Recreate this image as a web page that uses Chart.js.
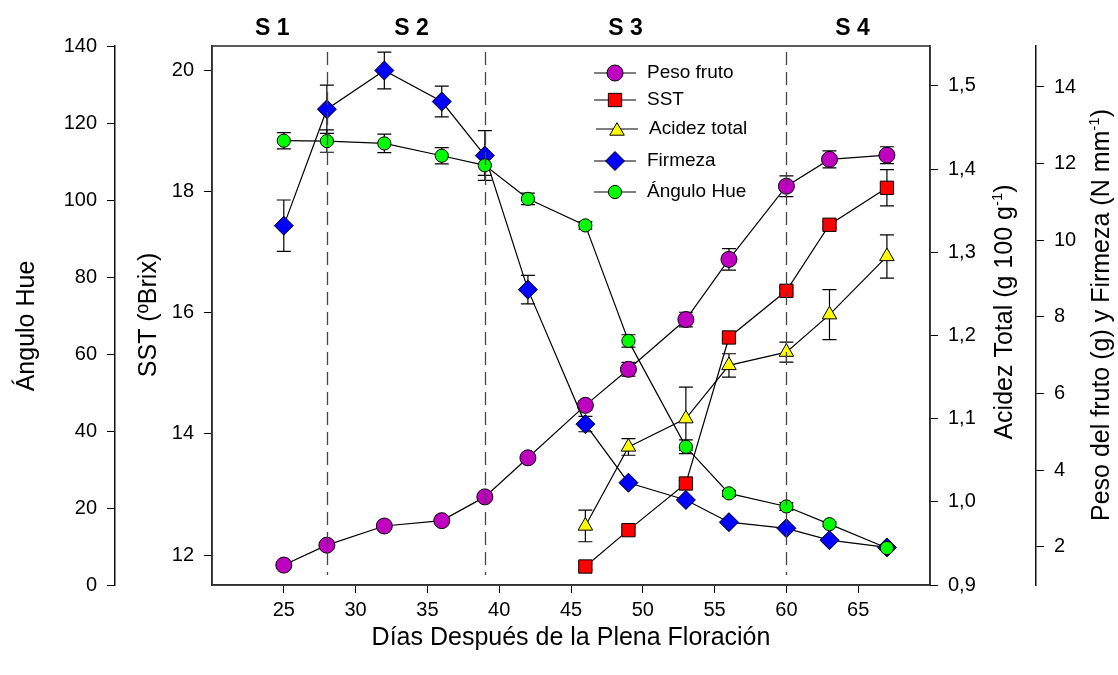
<!DOCTYPE html>
<html>
<head>
<meta charset="utf-8">
<script src="https://cdn.jsdelivr.net/npm/chart.js@4"></script>
<style>
  html, body { margin: 0; padding: 0; background: #fff; }
  #wrap { width: 1118px; height: 675px; }
</style>
</head>
<body>
<div id="wrap"><canvas id="chart" width="1118" height="675"></canvas></div>
<script>
// axis ticks
const xTicks = [25, 30, 35, 40, 45, 50, 55, 60, 65];
const hueTicks = [0, 20, 40, 60, 80, 100, 120, 140];
const sstTicks = [12, 14, 16, 18, 20];
const acidTicks = [0.9, 1.0, 1.1, 1.2, 1.3, 1.4, 1.5];
const pesoTicks = [2, 4, 6, 8, 10, 12, 14];

// sampling days (DDPF)
const days = [25, 28, 32, 36, 39, 42, 46, 49, 53, 56, 60, 63, 67];
const lateDays = [46, 49, 53, 56, 60, 63, 67];

// series values and error bars
const peso = [1.52, 2.04, 2.54, 2.68, 3.30, 4.32, 5.69, 6.63, 7.93, 9.50, 11.41, 12.11, 12.22];
const pesoErr = [0.05, 0.05, 0.05, 0.05, 0.08, 0.10, 0.12, 0.18, 0.19, 0.28, 0.27, 0.22, 0.22];
const sst = [11.81, 12.41, 13.18, 15.59, 16.36, 17.45, 18.06];
const sstErr = [0.05, 0.05, 0.05, 0.05, 0.05, 0.05, 0.30];
const acidez = [0.971, 1.066, 1.100, 1.164, 1.180, 1.225, 1.295];
const acidezErr = [0.019, 0.010, 0.038, 0.014, 0.012, 0.030, 0.026];
const firmeza = [10.38, 13.42, 14.43, 13.62, 12.21, 8.71, 5.20, 3.67, 3.22, 2.64, 2.48, 2.17, 1.98];
const firmezaErr = [0.67, 0.63, 0.48, 0.40, 0.65, 0.37, 0.20, 0.05, 0.05, 0.05, 0.05, 0.05, 0.05];
const hue = [115.4, 115.3, 114.7, 111.5, 109.0, 100.3, 93.4, 63.4, 35.9, 23.8, 20.4, 15.8, 9.6];
const hueErr = [2.1, 2.9, 2.4, 2.1, 2.6, 1.5, 1.0, 1.6, 1.8, 0.8, 1.0, 0.6, 0.5];

// phases
const phaseDays = [28, 39, 60];
const stageNames = ['S 1', 'S 2', 'S 3', 'S 4'];
const stageDays = [24.2, 33.9, 48.8, 64.6];

const FAMILY = '"Liberation Sans", Arial, Helvetica, sans-serif';
const fnt = (size, weight) => (weight ? weight + ' ' : '') + size + 'px ' + FAMILY;

function series(label, xs, ys, err, axis, style, color, radius, order) {
  return {
    label: label,
    data: xs.map((d, i) => ({ x: d, y: ys[i] })),
    err: err,
    yAxisID: axis,
    order: order,
    pointStyle: style,
    pointRadius: radius,
    pointHoverRadius: radius,
    pointBackgroundColor: color,
    backgroundColor: color,
    pointBorderColor: '#000',
    pointBorderWidth: 1,
    borderColor: '#000',
    borderWidth: 1.2,
    tension: 0,
    fill: false
  };
}

const datasets = [
  series('Peso fruto', days, peso, pesoErr, 'yPeso', 'circle', '#C000C0', 8, 4),
  series('SST', lateDays, sst, sstErr, 'ySst', 'rect', '#FF0000', 9.4, 3),
  series('Acidez total', lateDays, acidez, acidezErr, 'yAcid', 'triangle', '#FFFF00', 8.4, 2),
  series('Firmeza', days, firmeza, firmezaErr, 'yPeso', 'rectRot', '#0000FF', 9.5, 1),
  series('Ángulo Hue', days, hue, hueErr, 'yHue', 'circle', '#00FF00', 6.6, 0)
];

function drawParts(ctx, parts, x, y, rot, size) {
  ctx.save();
  ctx.translate(x, y);
  ctx.rotate(rot);
  ctx.textAlign = 'left';
  ctx.textBaseline = 'alphabetic';
  ctx.fillStyle = '#000';
  const widths = parts.map(p => {
    ctx.font = fnt(p.sup ? size * 0.6 : size);
    return ctx.measureText(p.t).width;
  });
  let cx = -widths.reduce((a, b) => a + b, 0) / 2;
  const base = size * 0.36;
  parts.forEach((p, i) => {
    ctx.font = fnt(p.sup ? size * 0.6 : size);
    ctx.fillText(p.t, cx, p.sup ? base - size * 0.42 : base);
    cx += widths[i];
  });
  ctx.restore();
}

const errorBars = {
  id: 'errorBars',
  beforeDatasetsDraw(chart) {
    const ctx = chart.ctx;
    const area = chart.chartArea;
    ctx.save();
    ctx.beginPath();
    ctx.rect(area.left, area.top, area.right - area.left, area.bottom - area.top);
    ctx.clip();
    ctx.strokeStyle = '#000';
    ctx.lineWidth = 1.2;
    chart.data.datasets.forEach((ds, i) => {
      const meta = chart.getDatasetMeta(i);
      const ys = chart.scales[ds.yAxisID];
      ds.data.forEach((pt, j) => {
        const x = meta.data[j].x;
        const y1 = ys.getPixelForValue(pt.y + ds.err[j]);
        const y2 = ys.getPixelForValue(pt.y - ds.err[j]);
        ctx.beginPath();
        ctx.moveTo(x, y1); ctx.lineTo(x, y2);
        ctx.moveTo(x - 7, y1); ctx.lineTo(x + 7, y1);
        ctx.moveTo(x - 7, y2); ctx.lineTo(x + 7, y2);
        ctx.stroke();
      });
    });
    ctx.restore();
  }
};

const decorations = {
  id: 'decorations',
  afterDatasetsDraw(chart) {
    const ctx = chart.ctx;
    const area = chart.chartArea;
    const xs = chart.scales.x;

    // phase separators
    ctx.save();
    ctx.strokeStyle = '#444';
    ctx.lineWidth = 1.3;
    ctx.setLineDash([13, 7]);
    phaseDays.forEach(d => {
      const x = Math.round(xs.getPixelForValue(d)) + 0.5;
      ctx.beginPath();
      ctx.moveTo(x, area.top + 6);
      ctx.lineTo(x, area.bottom - 10);
      ctx.stroke();
    });
    ctx.restore();

    // frame
    ctx.save();
    ctx.strokeStyle = '#333';
    ctx.lineWidth = 1.6;
    ctx.strokeRect(area.left, area.top, area.right - area.left, area.bottom - area.top);
    ctx.restore();

    // stage labels
    ctx.save();
    ctx.fillStyle = '#000';
    ctx.font = fnt(23, 'bold');
    ctx.textAlign = 'center';
    ctx.textBaseline = 'middle';
    stageNames.forEach((s, i) => ctx.fillText(s, xs.getPixelForValue(stageDays[i]), 29));
    ctx.restore();

    // legend
    ctx.save();
    const legendY = [73, 100, 129, 161, 192];
    const lx = 615;
    chart.data.datasets.forEach((ds, i) => {
      const y = legendY[i];
      const shift = ds.pointStyle === 'triangle' ? 2 : 0;
      ctx.strokeStyle = '#000';
      ctx.lineWidth = 1.2;
      ctx.beginPath();
      ctx.moveTo(lx - 21 + shift, y);
      ctx.lineTo(lx + 21 + shift, y);
      ctx.stroke();
      ctx.fillStyle = ds.pointBackgroundColor;
      ctx.strokeStyle = '#000';
      ctx.lineWidth = 1;
      Chart.helpers.drawPoint(ctx, { pointStyle: ds.pointStyle, radius: ds.pointRadius, borderWidth: 1, rotation: 0 }, lx + shift, y + (ds.pointStyle === 'triangle' ? 2 : 0));
      ctx.fillStyle = '#000';
      ctx.font = fnt(19);
      ctx.textAlign = 'left';
      ctx.textBaseline = 'middle';
      ctx.fillText(ds.label, 647 + shift, y);
    });
    ctx.restore();

    // axis titles
    const s = chart.scales;
    drawParts(ctx, [{ t: 'Ángulo Hue' }], s.yHue.left + 25, 326, -Math.PI / 2, 25);
    drawParts(ctx, [{ t: 'SST (ºBrix)' }], s.ySst.left + 32, 315, -Math.PI / 2, 25);
    drawParts(ctx, [{ t: 'Acidez Total (g 100 g' }, { t: '-1', sup: true }, { t: ')' }], s.yAcid.left + 73, 312, -Math.PI / 2, 25);
    drawParts(ctx, [{ t: 'Peso del fruto (g) y Firmeza (N mm' }, { t: '-1', sup: true }, { t: ')' }], s.yPeso.left + 64, 315, -Math.PI / 2, 25);
    drawParts(ctx, [{ t: 'Días Después de la Plena Floración' }], (area.left + area.right) / 2, 636, 0, 25);
  }
};

function yAxis(position, weight, min, max, tickList, width, fmt) {
  return {
    type: 'linear',
    position: position,
    weight: weight,
    min: min,
    max: max,
    afterBuildTicks: sc => { sc.ticks = tickList.map(v => ({ value: v })); },
    afterFit: sc => { sc.width = width; },
    grid: { drawOnChartArea: false, drawTicks: true, tickLength: 8, tickColor: '#000', tickWidth: 1 },
    border: { display: true, color: '#111', width: 1.5 },
    ticks: { font: { family: FAMILY, size: 20 }, color: '#000', padding: 10, autoSkip: false, callback: fmt || (v => String(v)) },
    title: { display: false }
  };
}

new Chart(document.getElementById('chart'), {
  type: 'line',
  data: { datasets: datasets },
  options: {
    responsive: false,
    animation: false,
    events: [],
    layout: { padding: { top: 46, left: 0, right: 0, bottom: 0 } },
    plugins: { legend: { display: false }, tooltip: { enabled: false } },
    scales: {
      x: {
        type: 'linear',
        position: 'bottom',
        min: 20,
        max: 70,
        afterBuildTicks: sc => { sc.ticks = xTicks.map(v => ({ value: v })); },
        afterFit: sc => { sc.height = 90; },
        grid: { drawOnChartArea: false, tickLength: 8, tickColor: '#000', tickWidth: 1 },
        border: { display: true, color: '#222', width: 1.5 },
        ticks: { font: { family: FAMILY, size: 20 }, color: '#000', padding: 5, maxRotation: 0, autoSkip: false }
      },
      yHue: yAxis('left', 1, 0, 140, hueTicks, 115),
      ySst: yAxis('left', 0, 11.505, 20.4, sstTicks, 97),
      yAcid: yAxis('right', 0, 0.9, 1.548, acidTicks, 106, v => v.toFixed(1).replace('.', ',')),
      yPeso: yAxis('right', 1, 1, 15.07, pesoTicks, 82)
    }
  },
  plugins: [errorBars, decorations]
});
</script>
</body>
</html>
